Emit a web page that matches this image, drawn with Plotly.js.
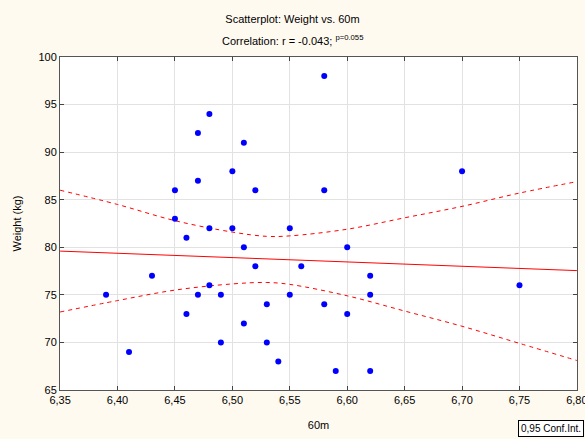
<!DOCTYPE html>
<html>
<head>
<meta charset="utf-8">
<script src="https://cdn.plot.ly/plotly-3.0.1.min.js"></script>
<style>html,body{margin:0;padding:0;background:#fffaf0;}</style>
</head>
<body>
<div id="chart" style="width:585px;height:439px;"></div>
<script>
// Observations: 60m time (s) and weight (kg)
const x60m = [6.39, 6.41, 6.43, 6.45, 6.45, 6.46, 6.46, 6.47, 6.47, 6.47,
              6.48, 6.48, 6.48, 6.49, 6.49, 6.50, 6.50, 6.51, 6.51, 6.51,
              6.52, 6.52, 6.53, 6.53, 6.54, 6.55, 6.55, 6.56, 6.58, 6.58,
              6.58, 6.59, 6.60, 6.60, 6.62, 6.62, 6.62, 6.70, 6.75];
const weight = [75, 69, 77, 86, 83, 81, 73, 92, 87, 75,
                94, 82, 76, 75, 70, 88, 82, 91, 80, 72,
                86, 78, 74, 70, 68, 82, 75, 78, 98, 86,
                74, 67, 80, 73, 77, 75, 67, 88, 76];

// Regression line and 0.95 confidence band
const fitX = [6.35, 6.80];
const fitY = [79.6, 77.55];
const bandX = [6.35, 6.40, 6.45, 6.50, 6.53, 6.55, 6.60, 6.65, 6.70, 6.75, 6.80];
const ciUpper = [86.0, 84.5, 82.8, 81.6, 81.15, 81.2, 81.9, 83.1, 84.3, 85.7, 86.9];
const ciLower = [73.2, 74.4, 75.5, 76.15, 76.3, 76.1, 74.9, 73.3, 71.7, 69.9, 68.1];

const xTickVals = [6.35, 6.40, 6.45, 6.50, 6.55, 6.60, 6.65, 6.70, 6.75, 6.80];
const xTickText = ['6,35','6,40','6,45','6,50','6,55','6,60','6,65','6,70','6,75','6,80'];
const yTickVals = [65, 70, 75, 80, 85, 90, 95, 100];

const font = 'Liberation Sans, Arial, sans-serif';

const traces = [
  {x: bandX, y: ciUpper, mode: 'lines', line: {color: '#ff0000', width: 1, dash: '4px,4px', shape: 'spline'}, hoverinfo: 'skip'},
  {x: bandX, y: ciLower, mode: 'lines', line: {color: '#ff0000', width: 1, dash: '4px,4px', shape: 'spline'}, hoverinfo: 'skip'},
  {x: fitX, y: fitY, mode: 'lines', line: {color: '#ff0000', width: 1}},
  {x: x60m, y: weight, mode: 'markers', marker: {color: '#0000ff', size: 6, symbol: 'circle'}}
];

const axisCommon = {
  showgrid: true, gridcolor: '#e2e2e2', gridwidth: 1,
  showline: true, linecolor: '#555555', linewidth: 1, mirror: 'ticks',
  ticks: 'inside', ticklen: 4, tickcolor: '#444444',
  zeroline: false, ticklabeloverflow: 'allow',
  tickfont: {family: font, size: 11, color: '#000000'}
};

const layout = {
  width: 585, height: 439,
  margin: {l: 60, r: 8, t: 57, b: 49},
  paper_bgcolor: '#fffaf0',
  plot_bgcolor: '#ffffff',
  showlegend: false,
  font: {family: font, size: 11, color: '#000000'},
  title: {text: 'Scatterplot: Weight vs. 60m', font: {family: font, size: 11, color: '#000000'},
          x: 0.5, xref: 'container', y: 1 - 19/439, yref: 'container', yanchor: 'middle'},
  xaxis: Object.assign({}, axisCommon, {
    range: [6.3499, 6.8001], tickvals: xTickVals, ticktext: xTickText,
    title: {text: '60m', font: {family: font, size: 11, color: '#000000'}, standoff: 16}
  }),
  yaxis: Object.assign({}, axisCommon, {
    range: [65, 100.001], tickvals: yTickVals,
    title: {text: 'Weight (kg)', font: {family: font, size: 11, color: '#000000'}, standoff: 14}
  }),
  annotations: [
    {text: 'Correlation: r = -0.043; <sup>p=0.055</sup>', xref: 'paper', yref: 'paper',
     x: (292.5 - 60) / 517, y: 1 + 17/333, xanchor: 'center', yanchor: 'middle', showarrow: false,
     font: {family: font, size: 11, color: '#000000'}},
    {text: '0,95 Conf.Int.', xref: 'paper', yref: 'paper',
     x: (518 - 60) / 517, y: -38/333, xanchor: 'left', yanchor: 'middle', showarrow: false,
     align: 'left', bordercolor: '#000000', borderwidth: 1, borderpad: 2, bgcolor: '#ffffff',
     font: {family: font, size: 10, color: '#000000'}}
  ]
};

Plotly.newPlot('chart', traces, layout, {displayModeBar: false, staticPlot: true});
</script>
</body>
</html>
